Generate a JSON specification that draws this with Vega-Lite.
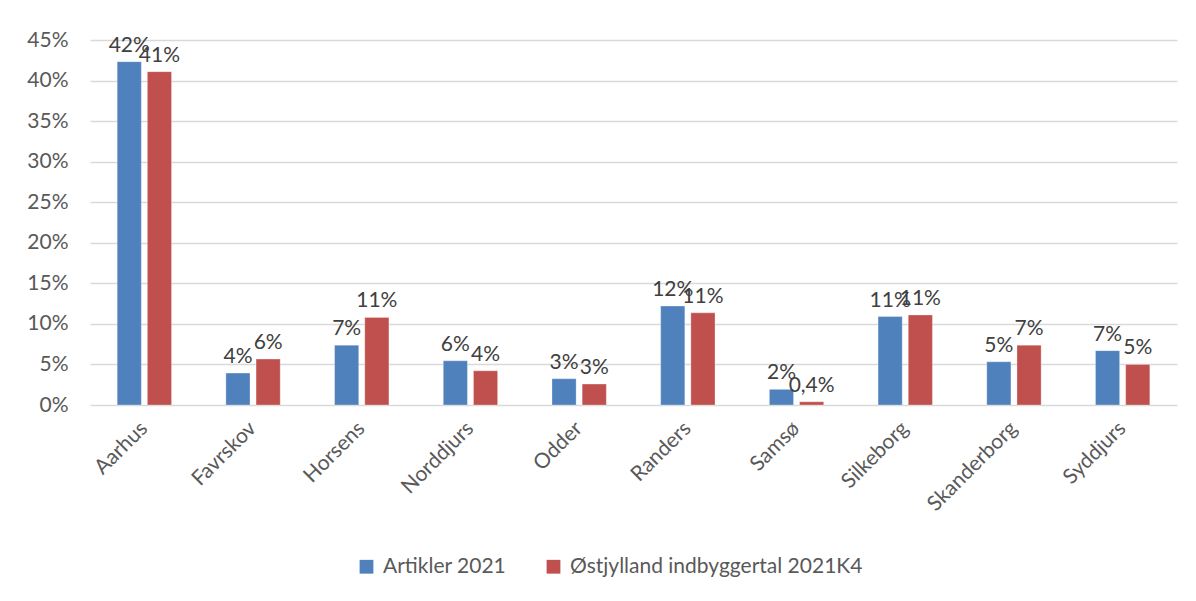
{
  "$schema": "https://vega.github.io/schema/vega-lite/v6.json",
  "autosize": "none",
  "width": 1087,
  "height": 365,
  "padding": {"left": 90, "top": 40, "right": 19, "bottom": 196},
  "background": "white",
  "data": {
    "values": [
      {"kommune": "Aarhus", "serie": "Artikler 2021", "andel": 0.4233, "label": "42%"},
      {"kommune": "Aarhus", "serie": "Østjylland indbyggertal 2021K4", "andel": 0.411, "label": "41%"},
      {"kommune": "Favrskov", "serie": "Artikler 2021", "andel": 0.0394, "label": "4%"},
      {"kommune": "Favrskov", "serie": "Østjylland indbyggertal 2021K4", "andel": 0.0566, "label": "6%"},
      {"kommune": "Horsens", "serie": "Artikler 2021", "andel": 0.0738, "label": "7%"},
      {"kommune": "Horsens", "serie": "Østjylland indbyggertal 2021K4", "andel": 0.108, "label": "11%"},
      {"kommune": "Norddjurs", "serie": "Artikler 2021", "andel": 0.0545, "label": "6%"},
      {"kommune": "Norddjurs", "serie": "Østjylland indbyggertal 2021K4", "andel": 0.0422, "label": "4%"},
      {"kommune": "Odder", "serie": "Artikler 2021", "andel": 0.0324, "label": "3%"},
      {"kommune": "Odder", "serie": "Østjylland indbyggertal 2021K4", "andel": 0.0258, "label": "3%"},
      {"kommune": "Randers", "serie": "Artikler 2021", "andel": 0.122, "label": "12%"},
      {"kommune": "Randers", "serie": "Østjylland indbyggertal 2021K4", "andel": 0.1136, "label": "11%"},
      {"kommune": "Samsø", "serie": "Artikler 2021", "andel": 0.0193, "label": "2%"},
      {"kommune": "Samsø", "serie": "Østjylland indbyggertal 2021K4", "andel": 0.004, "label": "0,4%"},
      {"kommune": "Silkeborg", "serie": "Artikler 2021", "andel": 0.109, "label": "11%"},
      {"kommune": "Silkeborg", "serie": "Østjylland indbyggertal 2021K4", "andel": 0.111, "label": "11%"},
      {"kommune": "Skanderborg", "serie": "Artikler 2021", "andel": 0.0533, "label": "5%"},
      {"kommune": "Skanderborg", "serie": "Østjylland indbyggertal 2021K4", "andel": 0.0738, "label": "7%"},
      {"kommune": "Syddjurs", "serie": "Artikler 2021", "andel": 0.067, "label": "7%"},
      {"kommune": "Syddjurs", "serie": "Østjylland indbyggertal 2021K4", "andel": 0.05, "label": "5%"}
    ]
  },
  "encoding": {
    "x": {
      "field": "kommune",
      "type": "nominal",
      "sort": null,
      "scale": {"paddingInner": 0.5, "paddingOuter": 0.25},
      "axis": {
        "title": null,
        "labelAngle": -45,
        "labelAlign": "right",
        "labelBaseline": "middle",
        "labelPadding": 20,
        "ticks": false,
        "domain": false,
        "labelFontSize": 21,
        "labelColor": "#595959",
        "labelFont": "Lato",
        "labelLimit": 0
      }
    },
    "xOffset": {
      "field": "serie",
      "type": "nominal",
      "scale": {"paddingInner": 0.2, "paddingOuter": 0}
    },
    "y": {
      "field": "andel",
      "type": "quantitative",
      "scale": {"domain": [0, 0.45], "nice": false},
      "axis": {
        "title": null,
        "format": ".0%",
        "values": [0, 0.05, 0.1, 0.15, 0.2, 0.25, 0.3, 0.35, 0.4, 0.45],
        "domain": false,
        "ticks": false,
        "labelPadding": 22,
        "labelFontSize": 21,
        "labelColor": "#595959",
        "labelFont": "Lato",
        "gridColor": "#d9d9d9",
        "gridWidth": 1.5
      }
    }
  },
  "layer": [
    {
      "mark": {"type": "bar", "stroke": "white", "strokeWidth": 0.5, "strokeOpacity": 0.6},
      "encoding": {
        "color": {
          "field": "serie",
          "type": "nominal",
          "scale": {
            "domain": ["Artikler 2021", "Østjylland indbyggertal 2021K4"],
            "range": ["#4F81BD", "#C0504D"]
          },
          "legend": {
            "title": null,
            "orient": "none",
            "direction": "horizontal",
            "legendX": 266,
            "legendY": 516,
            "symbolType": "square",
            "symbolSize": 190,
            "symbolStrokeWidth": 0,
            "labelFontSize": 21,
            "labelColor": "#595959",
            "labelFont": "Lato",
            "labelLimit": 0,
            "columnPadding": 36,
            "labelOffset": 6
          }
        }
      }
    },
    {
      "mark": {"type": "text", "baseline": "bottom", "dy": -6, "fontSize": 21, "font": "Lato", "color": "#404040"},
      "encoding": {"text": {"field": "label"}}
    }
  ],
  "config": {"view": {"stroke": null}}
}
